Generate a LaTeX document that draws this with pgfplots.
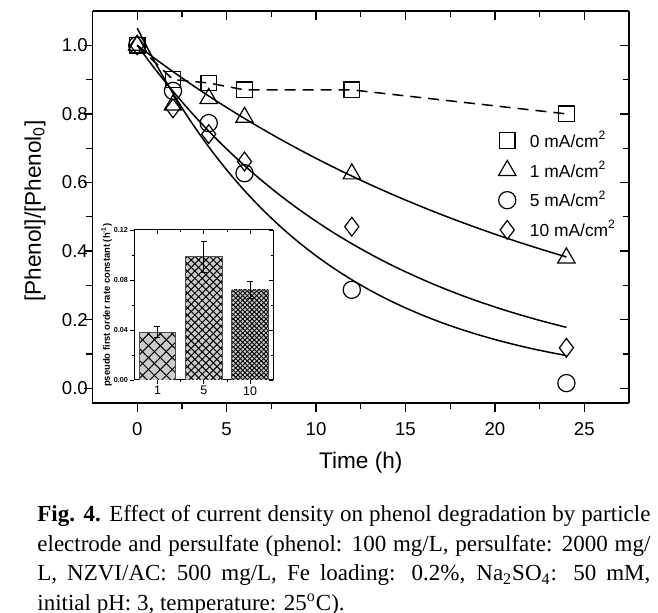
\documentclass[border=0pt]{standalone}
\usepackage{fontspec}
\setmainfont{Liberation Sans}
\newfontfamily\capfont{Liberation Serif}
\usepackage{pgfplots}
\pgfplotsset{compat=1.18}
\usetikzlibrary{patterns.meta}
\begin{document}
\begin{tikzpicture}
\path[use as bounding box] (0pt,0pt) rectangle (329pt,306.5pt);
\pgfplotsset{
  mainframe/.style={at={(46.25pt,105pt)}, anchor=south west, scale only axis,
    width=268.25pt, height=196pt, xmin=-2.5, xmax=27.5, ymin=-0.043, ymax=1.1,
    xtick={0,5,10,15,20,25}, ytick={0,0.2,0.4,0.6,0.8,1.0},
    minor x tick num=1, minor y tick num=1,
    major tick length=4.35pt, minor tick length=3pt,
    every tick/.style={black, line width=0.65pt},
    axis line style={line width=0.65pt}},
  insetframe/.style={at={(67.15pt,116.5pt)}, anchor=south west, scale only axis,
    width=69.5pt, height=75pt, xmin=-0.5, xmax=2.5, ymin=0, ymax=0.12,
    xtick={0,1,2}, ytick={0,0.04,0.08,0.12},
    minor x tick num=1, minor y tick num=1,
    major tick length=2pt, minor tick length=1.2pt,
    every tick/.style={black, line width=0.4pt},
    axis line style={line width=0.5pt}},
}
\begin{axis}[mainframe,
  axis x line*=bottom, axis y line*=left, tick align=outside,
  /pgf/number format/assume math mode=true,
  tick label style={font=\fontsize{9.3}{11}\selectfont},
  yticklabel style={inner xsep=0.3pt, xshift=2.5pt, /pgf/number format/.cd, fixed, fixed zerofill, precision=1},
  xticklabel style={yshift=-2pt},
  xlabel={Time (h)}, ylabel={[Phenol]/[Phenol\textsubscript{0}]},
  label style={font=\fontsize{11.3}{13}\selectfont},
  xlabel style={at={(axis description cs:0.5,-0.168)}, anchor=base},
  ylabel style={at={(axis description cs:-0.107,0.49)}, anchor=center},
  legend style={draw=none, fill=none, at={(0.745,0.715)}, anchor=north west,
    font=\fontsize{8.7}{10}\selectfont, row sep=1.3pt,
    /tikz/every odd column/.append style={column sep=5pt}},
  legend cell align=left,
]
% fitted curves
\addplot[black, line width=0.75pt, smooth, forget plot] table {
0 1.000
1 0.9608
2 0.9231
3 0.8869
4 0.8521
5 0.8187
6 0.7866
7 0.7558
8 0.7261
9 0.6977
10 0.6703
11 0.6440
12 0.6188
13 0.5945
14 0.5712
15 0.5488
16 0.5273
17 0.5066
18 0.4868
19 0.4677
20 0.4493
21 0.4317
22 0.4148
23 0.3985
24 0.3829
};
\addplot[black, line width=0.75pt, smooth, forget plot] table {
0 1.000
1 0.9305
2 0.8659
3 0.8057
4 0.7498
5 0.6977
6 0.6492
7 0.6041
8 0.5621
9 0.5231
10 0.4868
11 0.4529
12 0.4215
13 0.3922
14 0.3649
15 0.3396
16 0.3160
17 0.2941
18 0.2736
19 0.2546
20 0.2369
21 0.2205
22 0.2052
23 0.1909
24 0.1776
};
\addplot[black, line width=0.75pt, smooth, forget plot] table {
0 1.050
1 0.9501
2 0.8597
3 0.7779
4 0.7038
5 0.6369
6 0.5763
7 0.5214
8 0.4718
9 0.4269
10 0.3863
11 0.3495
12 0.3163
13 0.2862
14 0.2589
15 0.2343
16 0.2120
17 0.1918
18 0.1736
19 0.1571
20 0.1421
21 0.1286
22 0.1163
23 0.1053
24 0.0953
};
% dashed line for 0 mA/cm2
\addplot[black, line width=0.75pt, dash pattern=on 5.5pt off 3.5pt, forget plot] table {
0 1.00
2 0.90
4 0.89
6 0.87
12 0.87
24 0.80
};
\addplot[black, only marks, mark=square, mark size=3.9pt, mark options={line width=0.6pt}] table {
0 1.00
2 0.90
4 0.89
6 0.87
12 0.87
24 0.80
};
\addlegendentry{0 mA/cm\textsuperscript{2}}
\addplot[black, only marks, mark=triangle, mark size=5pt, mark options={line width=0.6pt}] table {
0 1.00
2 0.826
4 0.845
6 0.79
12 0.625
24 0.38
};
\addlegendentry{1 mA/cm\textsuperscript{2}}
\addplot[black, only marks, mark=o, mark size=4.3pt, mark options={line width=0.6pt}] table {
0 1.00
2 0.867
4 0.773
6 0.627
12 0.287
24 0.015
};
\addlegendentry{5 mA/cm\textsuperscript{2}}
\addplot[black, only marks, mark=diamond, mark size=4.7pt, mark options={line width=0.6pt}] table {
0 1.00
2 0.816
4 0.741
6 0.661
12 0.471
24 0.118
};
\addlegendentry{10 mA/cm\textsuperscript{2}}
\end{axis}
\begin{axis}[mainframe, axis x line*=top, axis y line*=right, tick align=inside,
  xticklabels={}, yticklabels={}]
\end{axis}
% inset
\begin{axis}[insetframe,
  axis x line*=bottom, axis y line*=left, tick align=outside,
  /pgf/number format/assume math mode=true,
  xticklabels={1,5,10},
  xticklabel style={font=\fontsize{6.2}{7}\selectfont, inner sep=1pt},
  yticklabel style={font=\bfseries\fontsize{3.6}{4}\selectfont, inner sep=1pt,
    /pgf/number format/.cd, fixed, fixed zerofill, precision=2},
  ylabel={pseudo first order rate constant (h\textsuperscript{-1})},
  ylabel style={font=\bfseries\fontsize{4.7}{5.5}\selectfont, at={(axis description cs:-0.2,0.5)}, anchor=center},
  error bars/error bar style={black, line width=0.5pt},
]
\addplot[ybar, bar width=0.79, bar shift=0pt, draw=black!70, line width=0.4pt, fill=gray!40,
  postaction={pattern={Lines[angle=45,distance=4.2pt,line width=0.5pt]}, pattern color=black},
  postaction={pattern={Lines[angle=-45,distance=4.2pt,line width=0.5pt]}, pattern color=black},
  error bars/.cd, y dir=both, y explicit, error mark options={black, rotate=90, mark size=1.5pt}]
  coordinates {(0,0.0382) +- (0,0.0045)};
\addplot[ybar, bar width=0.79, bar shift=0pt, draw=black!70, line width=0.4pt, fill=gray!40,
  postaction={pattern={Lines[angle=45,distance=2.6pt,line width=0.5pt]}, pattern color=black},
  postaction={pattern={Lines[angle=-45,distance=2.6pt,line width=0.5pt]}, pattern color=black},
  error bars/.cd, y dir=both, y explicit, error mark options={black, rotate=90, mark size=1.5pt}]
  coordinates {(1,0.0987) +- (0,0.0125)};
\addplot[ybar, bar width=0.79, bar shift=0pt, draw=black!70, line width=0.4pt, fill=gray!40,
  postaction={pattern={Lines[angle=45,distance=1.65pt,line width=0.45pt]}, pattern color=black},
  postaction={pattern={Lines[angle=-45,distance=1.65pt,line width=0.45pt]}, pattern color=black},
  error bars/.cd, y dir=both, y explicit, error mark options={black, rotate=90, mark size=1.5pt}]
  coordinates {(2,0.0720) +- (0,0.0070)};
\end{axis}
\begin{axis}[insetframe, axis x line*=top, axis y line*=right, tick align=inside,
  xticklabels={}, yticklabels={}]
\end{axis}
% caption
\node[anchor=north west, inner sep=0pt, text width=306.5pt, align=justify,
  font=\capfont\fontsize{11.5}{14.75}\selectfont] at (18.5pt,54pt)
  {\textbf{Fig. 4.} Effect of current density on phenol degradation by particle\linebreak
  electrode and persulfate (phenol: 100 mg/L, persulfate: 2000 mg/\linebreak
  L, NZVI/AC: 500 mg/L, Fe loading: 0.2\%, Na\textsubscript{2}SO\textsubscript{4}: 50 mM,\linebreak
  initial pH: 3, temperature: 25\textsuperscript{o}C).};
\end{tikzpicture}
\end{document}
